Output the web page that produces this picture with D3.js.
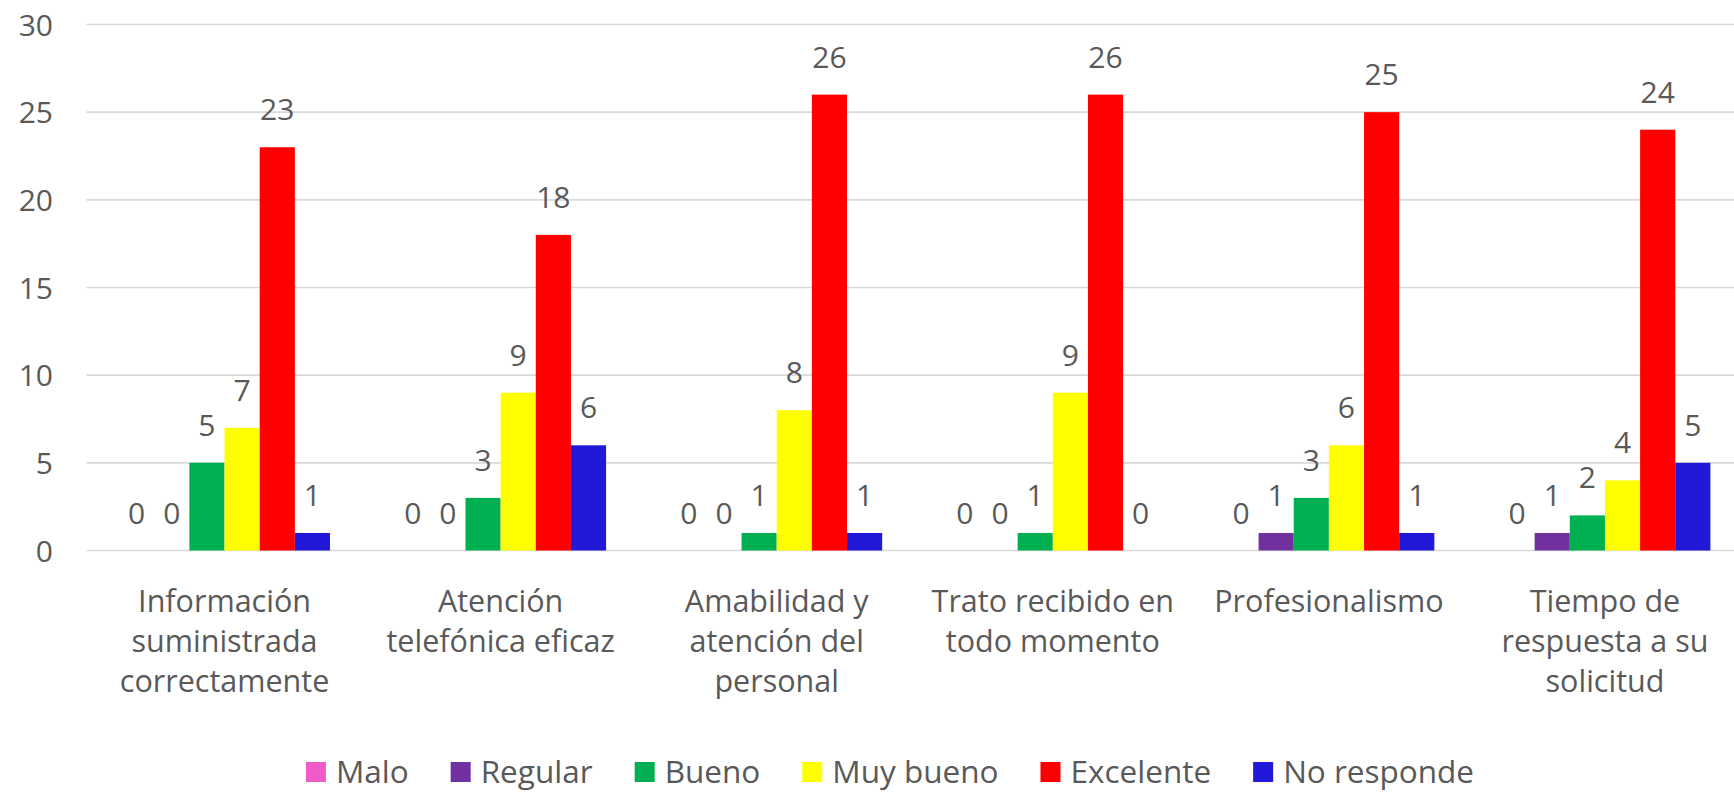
<!DOCTYPE html>
<html>
<head>
<meta charset="utf-8">
<script src="https://d3js.org/d3.v7.min.js"></script>
<style>
    body { margin: 0; background: #fff; }
    text { font-family: "Open Sans", sans-serif; fill: #595959; }
</style>
</head>
<body>
<script>
(function(){
//category labels, one array of lines per category
var categories = [
    ["Información", "suministrada", "correctamente"],
    ["Atención", "telefónica eficaz"],
    ["Amabilidad y", "atención del", "personal"],
    ["Trato recibido en", "todo momento"],
    ["Profesionalismo"],
    ["Tiempo de", "respuesta a su", "solicitud"]
];
var seriesNames = ["Malo", "Regular", "Bueno", "Muy bueno", "Excelente", "No responde"];
var seriesColors = ["#f15bc8", "#7030a0", "#00b050", "#ffff00", "#ff0000", "#2118d8"];

//values per series, in category order
var malo = [0, 0, 0, 0, 0, 0];
var regular = [0, 0, 0, 0, 1, 1];
var bueno = [5, 3, 1, 1, 3, 2];
var muyBueno = [7, 9, 8, 9, 6, 4];
var excelente = [23, 18, 26, 26, 25, 24];
var noResponde = [1, 6, 1, 0, 1, 5];
var yTicks = [0, 5, 10, 15, 20, 25, 30];

var seriesValues = [malo, regular, bueno, muyBueno, excelente, noResponde];

window.onload = drawChart();

function drawChart(){
    var width = 1734,
        height = 792,
        plotLeft = 86.5,
        plotRight = 1743,
        plotTop = 24.5,
        plotBottom = 550.5;

    var svg = d3.select("body")
        .append("svg")
        .attr("width", width)
        .attr("height", height);

    var keys = categories.map(function(d){ return d.join(" "); });

    var x0 = d3.scaleBand()
        .domain(keys)
        .range([plotLeft, plotRight])
        .paddingInner(0.236)
        .paddingOuter(0.118);

    var x1 = d3.scaleBand()
        .domain(seriesNames)
        .range([0, x0.bandwidth()]);

    var y = d3.scaleLinear()
        .domain([0, 30])
        .range([plotBottom, plotTop]);

    //gridlines
    svg.selectAll(".grid")
        .data(yTicks)
        .enter()
        .append("line")
        .attr("class", "grid")
        .attr("x1", plotLeft)
        .attr("x2", plotRight)
        .attr("y1", function(d){ return y(d); })
        .attr("y2", function(d){ return y(d); })
        .attr("stroke", "#d9d9d9")
        .attr("stroke-width", 1.6);

    //y axis labels
    var yAxis = d3.axisLeft(y)
        .tickValues(yTicks)
        .tickSize(0)
        .tickPadding(0);

    var axis = svg.append("g")
        .attr("transform", "translate(53,0)")
        .call(yAxis);
    axis.select(".domain").remove();
    axis.selectAll("text")
        .attr("font-family", null)
        .attr("font-size", null)
        .style("font-size", "30px")
        .attr("dy", "0.36em");

    //bars, one group per category
    var rows = keys.map(function(k, i){
        return seriesNames.map(function(s, j){
            return { cat: k, series: s, value: seriesValues[j][i], color: seriesColors[j] };
        });
    });

    var groups = svg.selectAll(".group")
        .data(rows)
        .enter()
        .append("g")
        .attr("class", "group")
        .attr("transform", function(d, i){ return "translate(" + x0(keys[i]) + ",0)"; });

    groups.selectAll("rect")
        .data(function(d){ return d; })
        .enter()
        .append("rect")
        .attr("x", function(d){ return x1(d.series); })
        .attr("width", x1.bandwidth())
        .attr("y", function(d){ return y(d.value); })
        .attr("height", function(d){ return plotBottom - y(d.value); })
        .attr("fill", function(d){ return d.color; });

    //value labels
    groups.selectAll(".valueLabel")
        .data(function(d){ return d; })
        .enter()
        .append("text")
        .attr("class", "valueLabel")
        .attr("x", function(d){ return x1(d.series) + x1.bandwidth() / 2; })
        .attr("y", function(d){ return y(d.value) - 27; })
        .attr("text-anchor", "middle")
        .style("font-size", "30px")
        .text(function(d){ return d.value; });

    //category labels
    var catLabels = svg.selectAll(".catLabel")
        .data(categories)
        .enter()
        .append("text")
        .attr("class", "catLabel")
        .attr("text-anchor", "middle")
        .style("font-size", "30.5px")
        .attr("transform", function(d, i){
            return "translate(" + (x0(keys[i]) + x0.bandwidth() / 2) + ",612)";
        });
    catLabels.selectAll("tspan")
        .data(function(d){ return d; })
        .enter()
        .append("tspan")
        .attr("x", 0)
        .attr("y", function(d, i){ return i * 40; })
        .text(function(d){ return d; });

    //legend
    var legend = svg.append("g").attr("class", "legend");
    var box = 20, gap = 10, itemGap = 42, cx = 0;
    var items = legend.selectAll(".item")
        .data(seriesNames)
        .enter()
        .append("g")
        .attr("class", "item");
    items.append("rect")
        .attr("width", box)
        .attr("height", box)
        .attr("y", -box / 2)
        .attr("fill", function(d, i){ return seriesColors[i]; });
    items.append("text")
        .attr("x", box + gap)
        .attr("y", 11)
        .style("font-size", "31.5px")
        .text(function(d){ return d; });
    items.each(function(){
        var w = this.getBBox().width;
        d3.select(this).attr("transform", "translate(" + cx + ",0)");
        cx += w + itemGap;
    });
    var total = cx - itemGap;
    legend.attr("transform", "translate(" + (890 - total / 2) + ",772)");
};
})();
</script>
</body>
</html>
